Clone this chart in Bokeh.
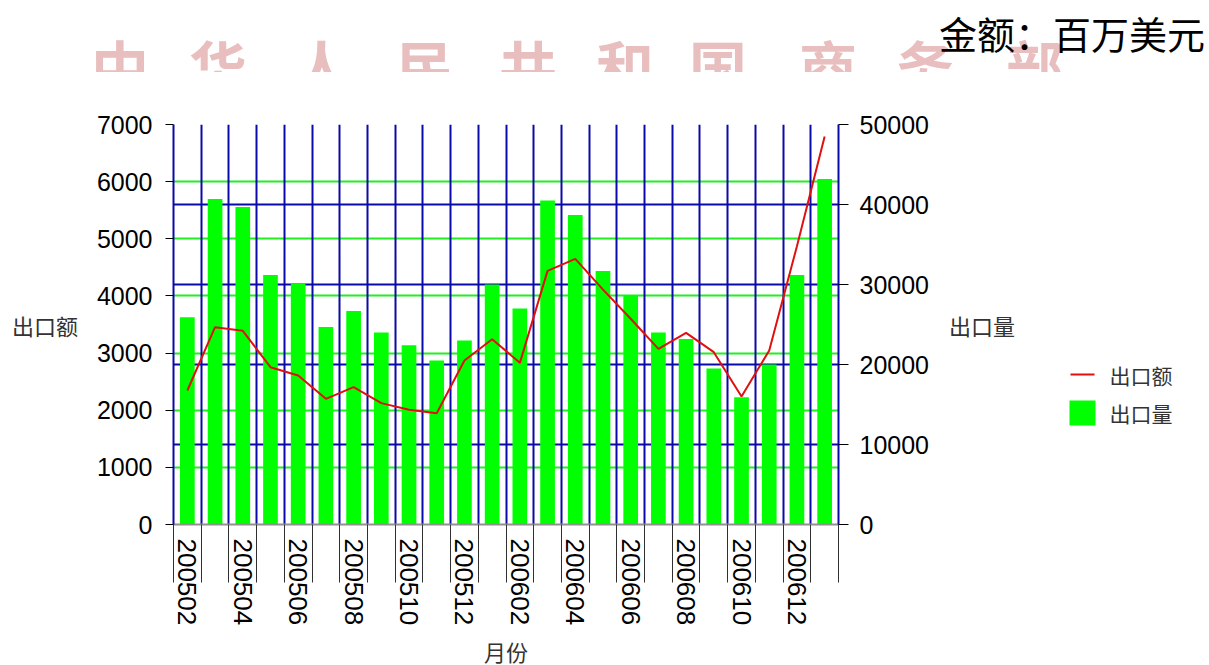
from bokeh.plotting import figure
from bokeh.models import (Range1d, LinearAxis, FixedTicker, Grid, Div)
from bokeh.layouts import column, row
from bokeh.core.properties import value
from bokeh.embed import file_html
from bokeh.resources import INLINE

# ---------------- data ----------------
months = ["200502", "200503", "200504", "200505", "200506", "200507",
          "200508", "200509", "200510", "200511", "200512", "200601",
          "200602", "200603", "200604", "200605", "200606", "200607",
          "200608", "200609", "200610", "200611", "200612", "200701"]
export_value = [2345, 3453, 3389, 2753, 2607, 2199, 2403, 2124, 2007, 1948, 2870, 3243,
                2829, 4439, 4649, 4110, 3600, 3074, 3354, 3016, 2240, 3045, 4870, 6790]
export_volume = [25900, 40700, 39700, 31200, 30200, 24700, 26700, 24000, 22400, 20500, 23000, 30000,
                 27000, 40500, 38700, 31700, 28700, 24000, 23200, 19500, 15900, 20000, 31200, 43200]
left_ticks = [0, 1000, 2000, 3000, 4000, 5000, 6000, 7000]
right_ticks = [0, 10000, 20000, 30000, 40000, 50000]
label_idx = list(range(0, 24, 2))
tick_labels = {i: months[i] for i in label_idx}
series_names = ["出口额", "出口量"]
watermark = ["中", "华", "人", "民", "共", "和", "国", "商", "务", "部"]
unit_text = "金额：百万美元"

CJK = "Noto Sans CJK SC"
NUM = "Liberation Sans"
GREEN = "#00FF00"
GRID_GREEN = "#22EE22"
NAVY = "#0A0AA8"
RED = "#E01010"

# ---------------- top strip (watermark + unit), clipped like the original ----------------
wm_x = [120, 218, 322, 425, 528, 625, 718, 828, 925, 1035]
spans = []
for ch, cx in zip(watermark, wm_x):
    spans.append(
        f'<span style="position:absolute;left:{cx - 29}px;top:36px;width:58px;text-align:center;'
        f"font-family:'{CJK}';font-size:58px;font-weight:bold;line-height:1;color:#E8BEBE;\">{ch}</span>")
spans.append(
    f'<span style="position:absolute;right:4px;top:14px;white-space:nowrap;'
    f"font-family:'{CJK}';font-size:38px;line-height:1;color:#000000;\">{unit_text}</span>")
top = Div(text='<div style="position:relative;width:1209px;height:72px;overflow:hidden;margin:0;padding:0;">'
          + "".join(spans) + "</div>", width=1209, height=72, margin=(0, 0, 0, 0))

# ---------------- main chart ----------------
p = figure(frame_width=665, frame_height=400,
           x_range=Range1d(-0.5, 23.5), y_range=Range1d(0, 7000),
           output_backend="svg", toolbar_location=None, title=None,
           min_border_left=173, min_border_right=1050 - 173 - 665,
           min_border_top=52, min_border_bottom=140,
           x_axis_type=None, y_axis_type=None, outline_line_color=None)
p.extra_y_ranges = {"vol": Range1d(0, 50000)}

# grids
p.add_layout(Grid(dimension=1, ticker=FixedTicker(ticks=left_ticks),
                  grid_line_color=GRID_GREEN, grid_line_width=2))
p.add_layout(Grid(dimension=1, y_range_name="vol", ticker=FixedTicker(ticks=right_ticks),
                  grid_line_color=NAVY, grid_line_width=2))
p.add_layout(Grid(dimension=0, ticker=FixedTicker(ticks=[i - 0.5 for i in range(25)]),
                  grid_line_color=NAVY, grid_line_width=2))

# glyphs
xs = list(range(len(months)))
p.vbar(x=xs, top=export_volume, width=0.53, y_range_name="vol",
       fill_color=GREEN, line_color=None)
p.line(x=xs, y=export_value, line_color=RED, line_width=2)

# axes
ly = LinearAxis(ticker=FixedTicker(ticks=left_ticks), axis_line_color=NAVY, axis_line_width=2,
                major_tick_out=8, major_tick_in=0, minor_tick_out=0, minor_tick_in=0,
                major_tick_line_color="black", major_label_standoff=13,
                major_label_text_font=NUM, major_label_text_font_size="25px",
                major_label_text_color="black",
                axis_label=series_names[0], axis_label_orientation="horizontal",
                axis_label_standoff=16, axis_label_text_font=CJK,
                axis_label_text_font_size="22px", axis_label_text_font_style="normal",
                axis_label_text_color="#333333")
p.add_layout(ly, "left")
ry = LinearAxis(y_range_name="vol", ticker=FixedTicker(ticks=right_ticks), axis_line_color=NAVY,
                axis_line_width=2, major_tick_out=10, major_tick_in=0, minor_tick_out=0,
                minor_tick_in=0, major_tick_line_color="black", major_label_standoff=11,
                major_label_text_font=NUM, major_label_text_font_size="25px",
                major_label_text_color="black",
                axis_label=series_names[1], axis_label_orientation="horizontal",
                axis_label_standoff=17, axis_label_text_font=CJK,
                axis_label_text_font_size="22px", axis_label_text_font_style="normal",
                axis_label_text_color="#333333")
p.add_layout(ry, "right")
bx = LinearAxis(ticker=FixedTicker(ticks=label_idx, minor_ticks=[i - 0.5 for i in range(25)]),
                major_label_overrides=tick_labels, major_label_orientation="vertical",
                axis_line_color="#909090", axis_line_width=2,
                major_tick_out=0, major_tick_in=0, minor_tick_out=58, minor_tick_in=0,
                minor_tick_line_color="#303030", minor_tick_line_width=1,
                major_label_standoff=-44, major_label_text_font=NUM,
                major_label_text_font_size="26px", major_label_text_color="black",
                axis_label="月份", axis_label_standoff=7, axis_label_text_font=CJK,
                axis_label_text_font_size="22px", axis_label_text_font_style="normal",
                axis_label_text_color="#333333")
p.add_layout(bx, "below")

# ---------------- legend panel (own small figure, pixel coordinates) ----------------
leg = figure(frame_width=155, frame_height=400, x_range=Range1d(1050, 1205),
             y_range=Range1d(524, 124), output_backend="svg", toolbar_location=None,
             title=None, min_border_left=0, min_border_right=0,
             min_border_top=52, min_border_bottom=140,
             x_axis_type=None, y_axis_type=None, outline_line_color=None)
leg.segment(x0=[1070], y0=[374], x1=[1094], y1=[374], line_color=RED, line_width=2)
leg.quad(left=[1069], right=[1095], top=[400], bottom=[425], fill_color=GREEN, line_color=None)
leg.text(x=[1109, 1109], y=[374, 412], text=series_names, text_font=value(CJK),
         text_font_size="21px", text_color="#333333", text_baseline="middle", text_align="left")

layout = column(top, row(p, leg, spacing=0), spacing=0)
open("out.html", "w").write(file_html(layout, INLINE))
